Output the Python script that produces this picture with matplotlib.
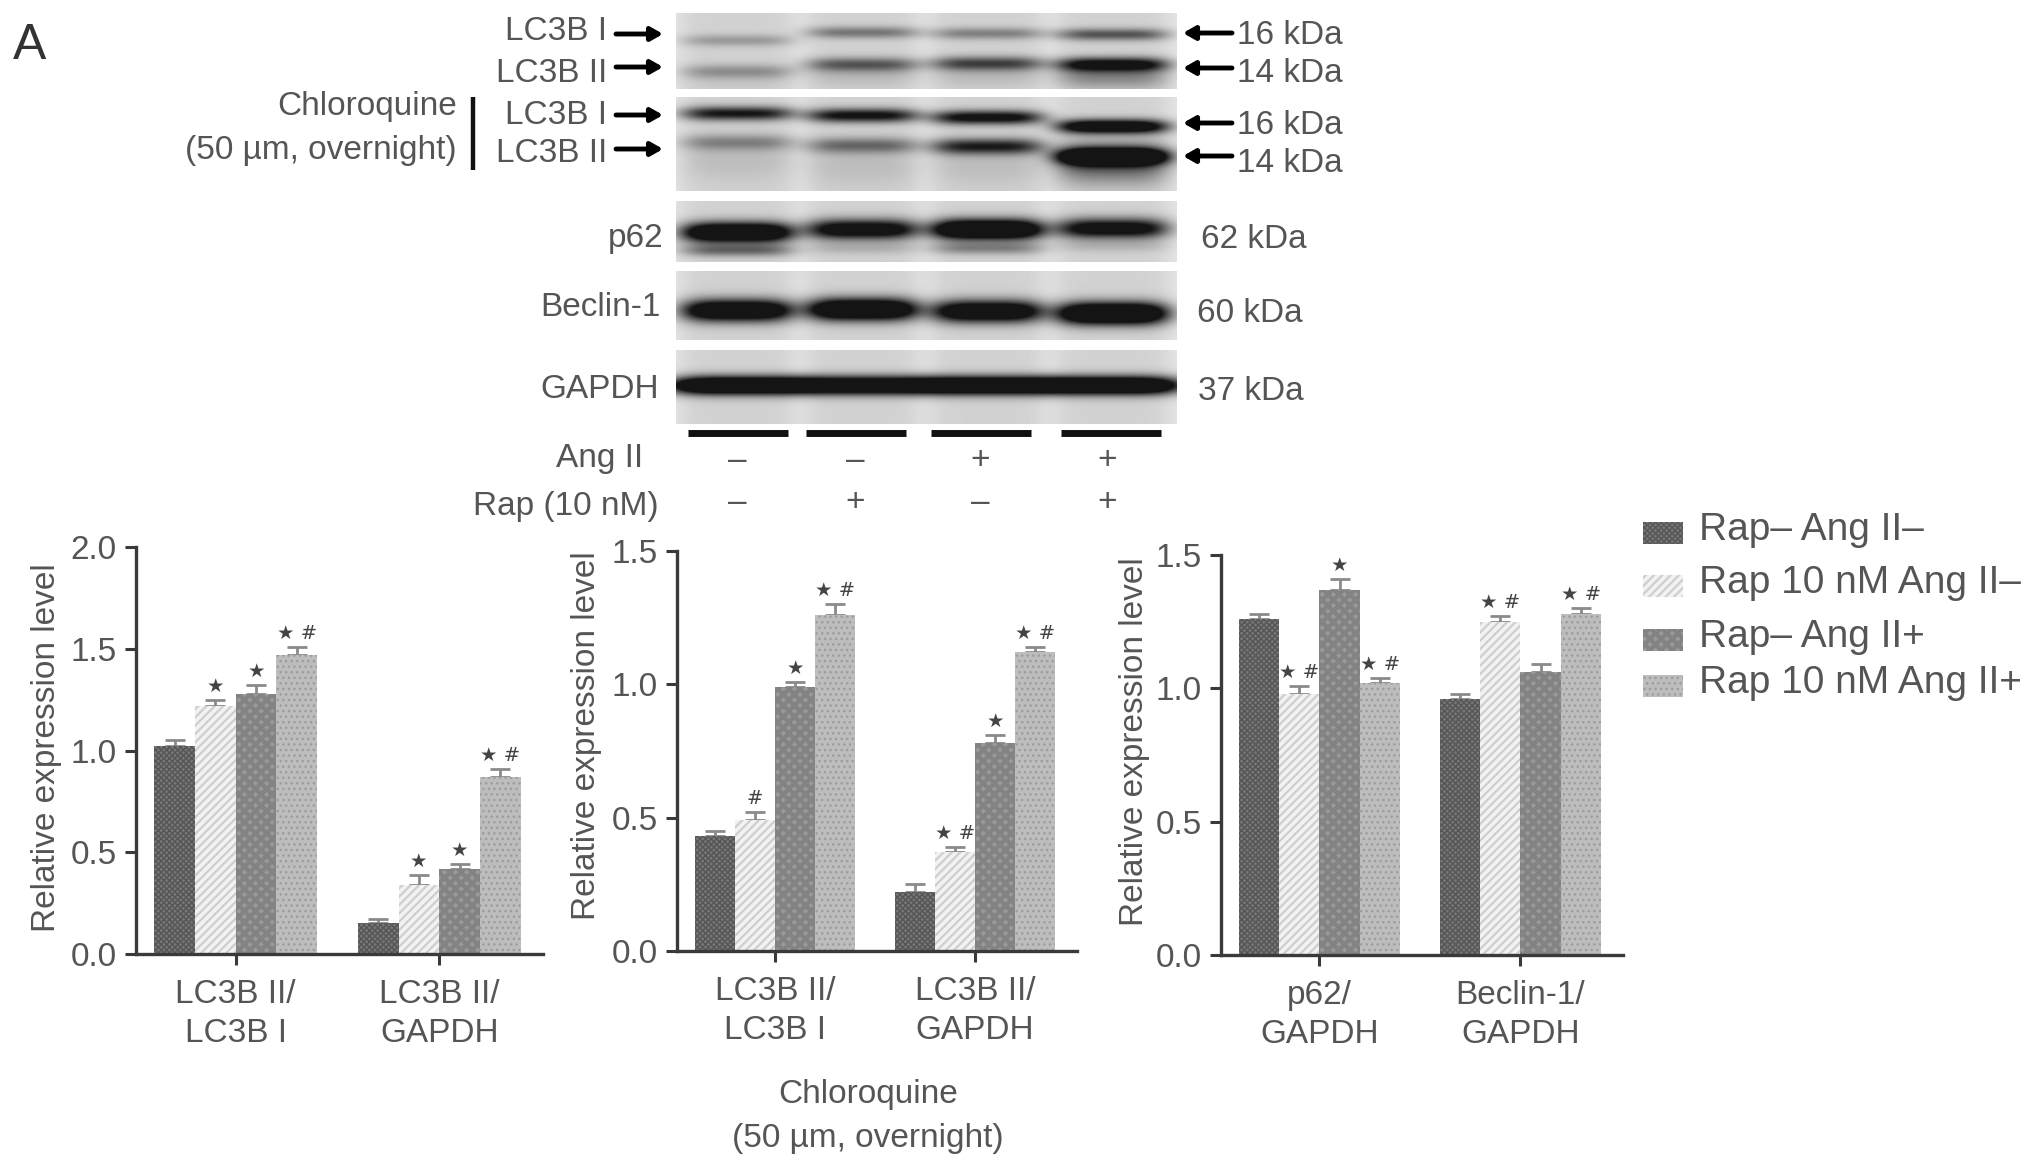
import matplotlib
matplotlib.use("Agg")
import matplotlib.pyplot as plt
import numpy as np

W, H = 2032, 1166
TEXT = "#555555"
AXIS = "#3a3a3a"

plt.rcParams["font.family"] = ["Liberation Sans", "DejaVu Sans"]

# bar values
series_names = ["Rap\u2013 Ang II\u2013", "Rap 10 nM Ang II\u2013", "Rap\u2013 Ang II+", "Rap 10 nM Ang II+"]

p1_labels = ["LC3B II/\nLC3B I", "LC3B II/\nGAPDH"]
p1_values = [[1.02, 1.22, 1.28, 1.47], [0.15, 0.34, 0.42, 0.87]]
p1_tops = [[1.05, 1.25, 1.32, 1.51], [0.17, 0.39, 0.44, 0.91]]
p1_marks = [["", "\u2605", "\u2605", "\u2605#"], ["", "\u2605", "\u2605", "\u2605#"]]

p2_labels = ["LC3B II/\nLC3B I", "LC3B II/\nGAPDH"]
p2_values = [[0.43, 0.49, 0.99, 1.26], [0.22, 0.37, 0.78, 1.12]]
p2_tops = [[0.45, 0.52, 1.01, 1.30], [0.25, 0.39, 0.81, 1.14]]
p2_marks = [["", "#", "\u2605", "\u2605#"], ["", "\u2605#", "\u2605", "\u2605#"]]

p3_labels = ["p62/\nGAPDH", "Beclin-1/\nGAPDH"]
p3_values = [[1.26, 0.98, 1.37, 1.02], [0.96, 1.25, 1.06, 1.28]]
p3_tops = [[1.28, 1.01, 1.41, 1.04], [0.98, 1.27, 1.09, 1.30]]
p3_marks = [["", "\u2605#", "\u2605", "\u2605#"], ["", "\u2605#", "", "\u2605#"]]

# western blot bands: centre row and darkness per lane, then half height
lane_x = [737, 862, 987, 1112]
blot1_i = ([40, 32, 33, 34], [0.22, 0.36, 0.32, 0.50], 6)
blot1_ii = ([71, 64, 63, 64], [0.24, 0.45, 0.55, 0.85], 7)
blot1_smear = ([78, 74, 74, 76], [0.05, 0.10, 0.10, 0.30], 12)
blot2_i = ([113, 115, 117, 126], [0.75, 0.80, 0.85, 1.10], 7)
blot2_ii = ([142, 145, 146, 156], [0.30, 0.40, 0.70, 1.30], 8)
blot2_extra = ([160, 165, 165, 162], [0.08, 0.08, 0.08, 0.50], 20)
blot3 = ([232, 229, 229, 228], [1.30, 1.00, 1.40, 0.95], 10)
blot3_tail = ([250, 248, 248, 246], [0.40, 0.12, 0.30, 0.10], 6)
blot4 = ([310, 309, 311, 313], [1.20, 1.30, 1.15, 1.40], 11)
blot5 = ([385, 385, 385, 385], [1.40, 1.30, 1.40, 1.40], 9)

ang_signs = ["\u2013", "\u2013", "+", "+"]
rap_signs = ["\u2013", "+", "\u2013", "+"]

bar_styles = [("#777777", "#565656", "xxxxxx", 1.0), ("#cfcfcf", "#f2f2f2", "////", 2.6),
              ("#9a9a9a", "#838383", "xxx", 3.0), ("#bdbdbd", "#9c9c9c", "...", 1.0)]

fig = plt.figure(figsize=(W / 100, H / 100), dpi=100)


def add_panel(box, ymax, yticks, labels, values, tops, marks, ylabel_xy):
    left, top, right, bottom = box
    ax = fig.add_axes([left / W, 1 - bottom / H, (right - left) / W, (bottom - top) / H])
    for g in range(2):
        for i in range(4):
            x = g + (i - 1.5) * 0.2
            face, edge, hatch, lw = bar_styles[i]
            plt.rcParams["hatch.linewidth"] = lw
            ax.bar(x, values[g][i], 0.2, color=face, edgecolor=edge, hatch=hatch, linewidth=0, zorder=2)
            ax.errorbar(x, values[g][i], yerr=[[0], [tops[g][i] - values[g][i]]], color="#8a8a8a",
                        capsize=7, elinewidth=2, capthick=2, zorder=1)
            if marks[g][i]:
                text = marks[g][i].replace("\u2605#", "\u2605 #")
                ax.annotate(text, (x, tops[g][i]), xytext=(0, 3), textcoords="offset points",
                            ha="center", va="bottom", fontsize=14, color="#444444",
                            family=["DejaVu Sans"])
    ax.set_xlim(-0.49, 1.51)
    ax.set_ylim(0, ymax)
    ax.set_xticks([0, 1])
    ax.set_xticklabels(labels, color=TEXT, fontsize=24, linespacing=1.32)
    ax.set_yticks(yticks)
    ax.set_yticklabels(["%.1f" % t for t in yticks], color=TEXT, fontsize=24)
    ax.tick_params(axis="both", length=8, width=2.2, color=AXIS, pad=6)
    ax.tick_params(axis="x", pad=10)
    for side in ["top", "right"]:
        ax.spines[side].set_visible(False)
    for side in ["left", "bottom"]:
        ax.spines[side].set_linewidth(2.4)
        ax.spines[side].set_color(AXIS)
    ax.set_ylabel("Relative expression level", color=TEXT, fontsize=24)
    ax.yaxis.set_label_coords((ylabel_xy[0] - left) / (right - left), (bottom - ylabel_xy[1]) / (bottom - top))
    return ax


add_panel((136, 547, 543, 954), 2.0, [0, 0.5, 1.0, 1.5, 2.0], p1_labels, p1_values, p1_tops, p1_marks, (62, 748))
add_panel((677, 551, 1077, 951), 1.5, [0, 0.5, 1.0, 1.5], p2_labels, p2_values, p2_tops, p2_marks, (602, 736))
add_panel((1221, 555, 1623, 955), 1.5, [0, 0.5, 1.0, 1.5], p3_labels, p3_values, p3_tops, p3_marks, (1150, 742))

# overlay in image pixels for the blots and their labels
over = fig.add_axes([0, 0, 1, 1], zorder=5)
over.patch.set_alpha(0)
over.axis("off")


def draw_blot(x0, y0, x1, y1, bands, spread=56.0, background=0.90):
    xs, ys = np.meshgrid(np.arange(x0, x1), np.arange(y0, y1))
    img = np.zeros(xs.shape)
    for cx in lane_x:
        # faint lane tint, with lighter gaps between lanes
        img += 0.08 * np.exp(-((xs - cx) / 58.0) ** 6)
    for rows, dark, half in bands:
        for cx, cy, d in zip(lane_x, rows, dark):
            across = np.exp(-((xs - cx) / spread) ** 4)
            down = np.exp(-((ys - cy) / float(half)) ** 2)
            img += d * across * down
    over.imshow(np.clip(background - img, 0.08, 1), cmap="gray", vmin=0, vmax=1,
                extent=(x0, x1, y1, y0), aspect="auto", interpolation="bilinear")


draw_blot(676, 13, 1177, 89, [blot1_i, blot1_ii, blot1_smear])
draw_blot(676, 97, 1177, 191, [blot2_i, blot2_ii, blot2_extra])
draw_blot(676, 201, 1177, 262, [blot3, blot3_tail])
draw_blot(676, 271, 1177, 340, [blot4])
draw_blot(676, 350, 1177, 424, [blot5], spread=70.0)
over.set_xlim(0, W)
over.set_ylim(H, 0)

for a, b in [(688, 788), (806, 906), (931, 1031), (1061, 1161)]:
    over.plot([a, b], [433, 433], color="#111111", lw=5, solid_capstyle="butt")
over.plot([473, 473], [97, 170], color="#111111", lw=3.2, solid_capstyle="butt")


def arrow(x_from, x_to, y):
    over.annotate("", xy=(x_to, y), xytext=(x_from, y),
                  arrowprops=dict(arrowstyle="-|>,head_width=0.4,head_length=0.7", color="black", lw=3.5,
                                  shrinkA=0, shrinkB=0))


for y in [34, 67, 115, 149]:
    arrow(616, 663, y)
for y in [33, 68, 123, 156]:
    arrow(1232, 1183, y)


def label(x, y, s, ha="right", size=24, color=TEXT):
    over.text(x, y, s, ha=ha, va="center", fontsize=size, color=color)


label(607, 32, "LC3B I")
label(607, 73, "LC3B II")
label(607, 115, "LC3B I")
label(607, 154, "LC3B II")
label(457, 107, "Chloroquine")
label(457, 151, "(50 \u00b5m, overnight)")
label(663, 239, "p62")
label(661, 308, "Beclin-1")
label(659, 389, "GAPDH")
label(643, 458, "Ang II")
label(659, 506, "Rap (10 nM)")
label(1237, 35, "16 kDa", ha="left")
label(1237, 74, "14 kDa", ha="left")
label(1237, 126, "16 kDa", ha="left")
label(1237, 164, "14 kDa", ha="left")
label(1201, 239, "62 kDa", ha="left")
label(1197, 313, "60 kDa", ha="left")
label(1198, 391, "37 kDa", ha="left")
label(13, 46, "A", ha="left", size=36, color="#333333")

for x, sign in zip([737, 855, 980, 1107], ang_signs):
    label(x, 461, sign, ha="center")
for x, sign in zip([737, 855, 980, 1107], rap_signs):
    label(x, 503, sign, ha="center")

label(868, 1095, "Chloroquine", ha="center")
label(868, 1138, "(50 \u00b5m, overnight)", ha="center")

# legend made by hand so the swatches land where they do in the figure
for name, y, (face, edge, hatch, lw) in zip(series_names, [533, 586, 640, 686], bar_styles):
    plt.rcParams["hatch.linewidth"] = lw
    over.bar(1663, 22, 40, bottom=y - 11, color=face, edgecolor=edge, hatch=hatch, linewidth=0)
    label(1699, y - 3, name, ha="left", size=28)

over.set_xlim(0, W)
over.set_ylim(H, 0)

fig.savefig("out.png", dpi=100)
